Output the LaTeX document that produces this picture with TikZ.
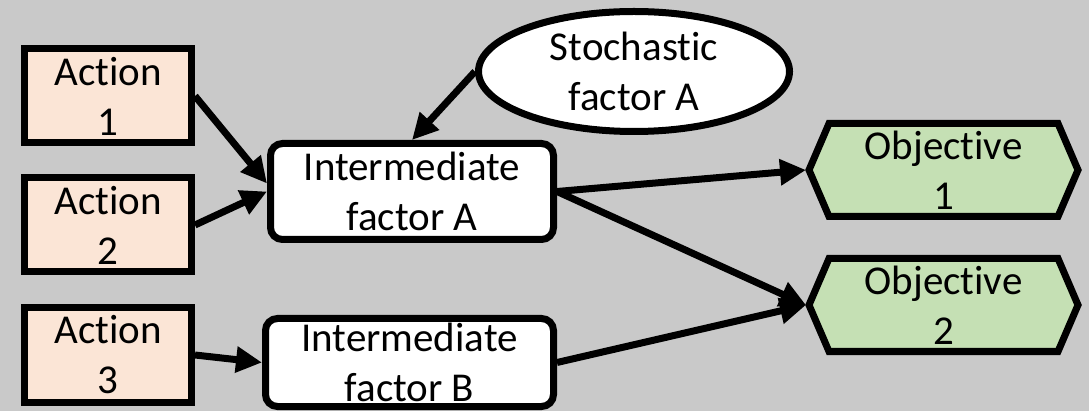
\documentclass[tikz,border=0pt]{standalone}
\usepackage{fontspec}
\setmainfont{Carlito}[Ligatures={NoCommon}]
\usetikzlibrary{shapes.geometric,arrows.meta,calc}
\definecolor{bg}{RGB}{201,201,201}
\definecolor{peach}{RGB}{251,229,214}
\definecolor{leaf}{RGB}{197,224,180}
\begin{document}
\begin{tikzpicture}[x=1pt,y=-1pt,
  actbox/.style={draw=black, line width=7pt, fill=peach, minimum width=167pt, minimum height=94pt, inner sep=0pt},
  midbox/.style={draw=black, line width=7pt, fill=white, rounded corners=12pt, minimum width=283pt, minimum height=96pt, inner sep=0pt},
  stoch/.style={ellipse, draw=black, line width=7pt, fill=white, minimum width=311pt, minimum height=120pt, inner sep=0pt},
  objbox/.style={draw=black, line width=7pt, fill=leaf, line join=miter},
  lbl/.style={inner sep=0pt, align=center, font=\fontsize{41}{50}\selectfont, text=black},
  link/.style={draw=black, line width=7pt, -{Triangle[length=26pt,width=25pt]}}
]
\fill[bg] (0,0) rectangle (1089,411);
\clip (0,0) rectangle (1089,411);
\useasboundingbox (0,0) rectangle (1089,411);

% action boxes
\node[actbox] (a1) at (108,96) {};
\node[lbl] (t1) at (a1.center) {Action\\1};
\node[actbox] (a2) at (108,225) {};
\node[lbl] (t2) at (a2.center) {Action\\2};
\node[actbox] (a3) at (108,355) {};
\node[lbl] (t3) at (a3.center) {Action\\3};

% intermediate factors
\node[midbox] (ia) at (412,191.5) {};
\node[lbl] (tia) at (ia.center) {Intermediate\\factor A};
\node[midbox, minimum width=288pt, minimum height=88pt] (ib) at (409.5,362.5) {};
\node[lbl] (tib) at (ib.center) {Intermediate\\factor B};

% stochastic factor
\node[stoch] (sf) at (634,71.5) {};
\node[lbl] (tsf) at (sf.center) {Stochastic\\factor A};

% objectives
\coordinate (o1c) at (943.5,170);
\draw[objbox] (o1c) ++(-134.5,0) -- ++(20,-46.5) -- ++(229,0) -- ++(20,46.5) -- ++(-20,46.5) -- ++(-229,0) -- cycle;
\node[lbl] (o1) at (o1c) {Objective\\1};
\coordinate (o2c) at (943.5,305);
\draw[objbox] (o2c) ++(-134.5,0) -- ++(20,-46.5) -- ++(229,0) -- ++(20,46.5) -- ++(-20,46.5) -- ++(-229,0) -- cycle;
\node[lbl] (o2) at (o2c) {Objective\\2};
\coordinate (o1w) at (806,170);
\coordinate (o2w) at (806,305);

% connectors
\draw[link] (a1.east) -- ($(ia.west)+(0,-8)$);
\draw[link] (a2.east) -- (ia.west);
\draw[link] (a3.east) -- (ib.west);
\draw[link] (sf.west) -- (ia.north);
\draw[link] (ia.east) -- (o1w);
\draw[link] (ia.east) -- (o2w);
\draw[link] (ib.east) -- (o2w);
\end{tikzpicture}
\end{document}
